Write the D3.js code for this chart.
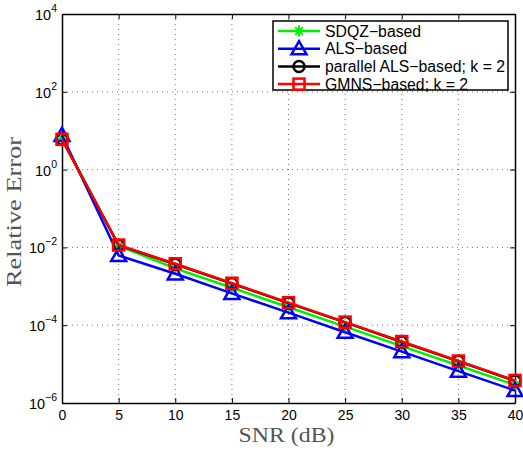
<!DOCTYPE html>
<html><head><meta charset="utf-8">
<script src="https://cdn.jsdelivr.net/npm/d3@7"></script>
<style>body{margin:0;background:#fff}svg{display:block}</style>
</head><body>
<svg id="c" width="523" height="451"></svg>
<script>
const snr = [0,5,10,15,20,25,30,35,40];
const sdqz = [6.2, 0.0110, 0.0029, 0.00092, 0.00029, 0.000092, 0.000029, 0.0000092, 0.0000029];
const als = [7.6, 0.0062, 0.0021, 0.00066, 0.00021, 0.000066, 0.000021, 0.0000066, 0.0000021];
const pals = [6.0, 0.0113, 0.0037, 0.00118, 0.00037, 0.000118, 0.000037, 0.0000118, 0.0000037];
const gmns = [6.0, 0.0115, 0.0038, 0.0012, 0.00038, 0.00012, 0.000038, 0.000012, 0.0000038];
const xTicks = [0,5,10,15,20,25,30,35,40];
const yTickExps = [-6,-4,-2,0,2,4];
const seriesNames = ["SDQZ\u2212based","ALS\u2212based","parallel ALS\u2212based; k = 2","GMNS\u2212based; k = 2"];

const svg = d3.select("#c");
const L=62,R=515,T=14,B=403;
const x = d3.scaleLinear().domain([0,40]).range([L,R]);
const y = d3.scaleLog().domain([1e-6,1e4]).range([B,T]);

// grid
const g = svg.append("g");
xTicks.forEach(t=>{ if(t>0&&t<40) g.append("line").attr("x1",x(t)).attr("x2",x(t)).attr("y1",T).attr("y2",B)
  .attr("stroke","#777").attr("stroke-width",1).attr("stroke-dasharray","1,4");});
yTickExps.forEach(e=>{ const v=Math.pow(10,e); if(e>-6&&e<4) g.append("line").attr("x1",L).attr("x2",R).attr("y1",y(v)).attr("y2",y(v))
  .attr("stroke","#777").attr("stroke-width",1).attr("stroke-dasharray","1,4");});

// axes with inner ticks
const font = "Liberation Sans, Arial, Helvetica, sans-serif";
const xa = svg.append("g").attr("transform",`translate(0,${B})`).call(d3.axisBottom(x).tickValues(xTicks).tickSizeInner(-5).tickSizeOuter(0).tickPadding(7));
xa.selectAll("text").attr("font-family",font).attr("font-size",14).attr("fill","#000");
const xt = svg.append("g").attr("transform",`translate(0,${T})`).call(d3.axisTop(x).tickValues(xTicks).tickSizeInner(-5).tickSizeOuter(0).tickFormat(""));
const ya = svg.append("g").attr("transform",`translate(${L},0)`).call(d3.axisLeft(y).tickValues(yTickExps.map(e=>Math.pow(10,e))).tickSizeInner(-5).tickSizeOuter(0).tickFormat(""));
const yr = svg.append("g").attr("transform",`translate(${R},0)`).call(d3.axisRight(y).tickValues(yTickExps.map(e=>Math.pow(10,e))).tickSizeInner(-5).tickSizeOuter(0).tickFormat(""));
[xa,xt,ya,yr].forEach(a=>{a.selectAll("path.domain").attr("stroke","#000").attr("stroke-width",1.5);a.selectAll(".tick line").attr("stroke","#000");});

// y tick labels as 10^e
yTickExps.forEach(e=>{
  const t = svg.append("text").attr("x",L-5).attr("y",y(Math.pow(10,e))+6).attr("text-anchor","end")
    .attr("font-family",font).attr("font-size",14.5).attr("fill","#000");
  t.append("tspan").text("10");
  t.append("tspan").attr("dy",-8).attr("font-size",10.5).text(e<0?"\u2212"+(-e):String(e));
});

// axis labels
const serif = "Liberation Serif, Times New Roman, serif";
svg.append("text").attr("x",(L+R)/2-2).attr("y",442).attr("text-anchor","middle")
  .attr("font-family",serif).attr("font-size",20).attr("fill","#555")
  .attr("textLength",96).attr("lengthAdjust","spacingAndGlyphs").text("SNR (dB)");
svg.append("text").attr("transform",`translate(21,212) rotate(-90)`).attr("text-anchor","middle")
  .attr("font-family",serif).attr("font-size",20).attr("fill","#555")
  .attr("textLength",150).attr("lengthAdjust","spacingAndGlyphs").text("Relative Error");

const series = [
  {vals:sdqz,color:"#00ee00",marker:"star"},
  {vals:als,color:"#0000ff",marker:"tri"},
  {vals:pals,color:"#000000",marker:"circle"},
  {vals:gmns,color:"#ff0000",marker:"square"}
];
function drawMarker(sel,type,color,cx,cy){
  if(type==="star"){
    const s=5.5;
    [[-s,0,s,0],[0,-s,0,s],[-s*0.7,-s*0.7,s*0.7,s*0.7],[-s*0.7,s*0.7,s*0.7,-s*0.7]].forEach(p=>
      sel.append("line").attr("x1",cx+p[0]).attr("y1",cy+p[1]).attr("x2",cx+p[2]).attr("y2",cy+p[3]).attr("stroke",color).attr("stroke-width",2));
  } else if(type==="tri"){
    const s=7.5;
    sel.append("path").attr("d",`M${cx},${cy-s}L${cx+s},${cy+s*0.75}L${cx-s},${cy+s*0.75}Z`).attr("fill","none").attr("stroke",color).attr("stroke-width",2.5);
  } else if(type==="circle"){
    sel.append("circle").attr("cx",cx).attr("cy",cy).attr("r",5.5).attr("fill","none").attr("stroke",color).attr("stroke-width",2.5);
  } else {
    const s=5.5;
    sel.append("rect").attr("x",cx-s).attr("y",cy-s).attr("width",2*s).attr("height",2*s).attr("fill","none").attr("stroke",color).attr("stroke-width",2.5);
  }
}
const line = d3.line().x(d=>x(d[0])).y(d=>y(d[1]));
const plot = svg.append("g");
series.forEach(s=>{
  const gg = plot.append("g");
  gg.append("path").attr("d",line(snr.map((v,i)=>[v,s.vals[i]]))).attr("fill","none").attr("stroke",s.color).attr("stroke-width",2.5);
  snr.forEach((v,i)=>drawMarker(gg,s.marker,s.color,x(v),y(s.vals[i])));
});

// legend
const lg = svg.append("g");
lg.append("rect").attr("x",273).attr("y",21).attr("width",235).attr("height",69).attr("fill","#fff").attr("stroke","#000").attr("stroke-width",1.5);
series.forEach((s,i)=>{
  const yy = 31 + i*17.7;
  lg.append("line").attr("x1",278).attr("x2",320).attr("y1",yy).attr("y2",yy).attr("stroke",s.color).attr("stroke-width",2.5);
  drawMarker(lg,s.marker,s.color,299,yy);
  lg.append("text").attr("x",325).attr("y",yy+5.5).attr("font-family",font).attr("font-size",15.8).attr("fill","#000").text(seriesNames[i]);
});
</script>
</body></html>
